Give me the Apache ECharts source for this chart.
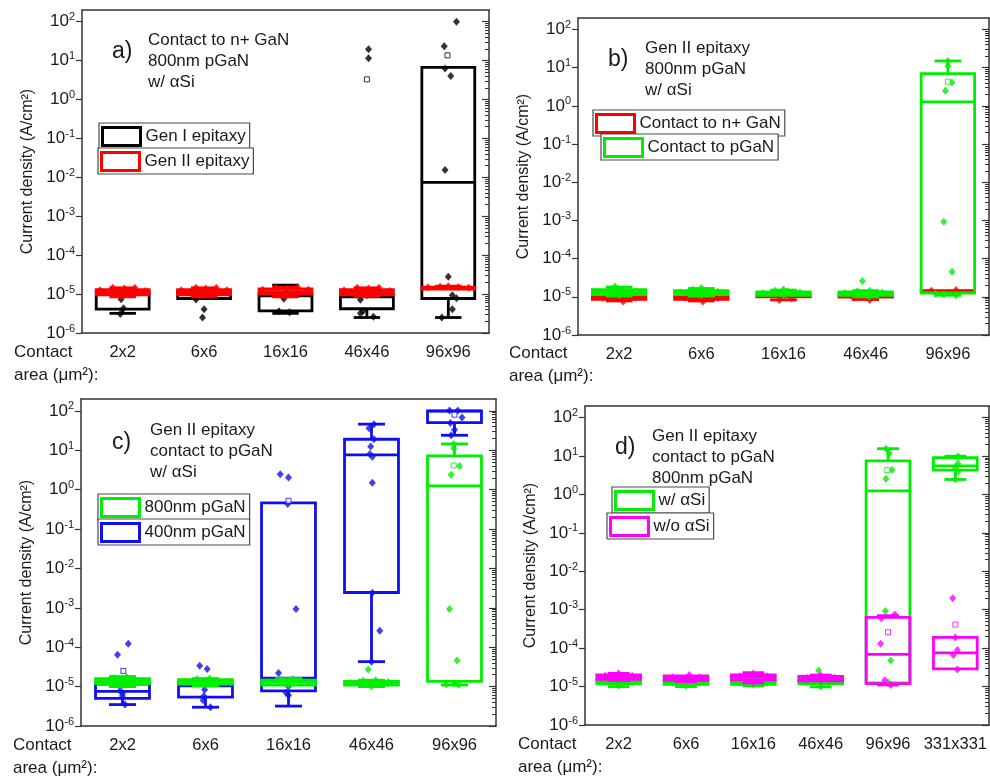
<!DOCTYPE html>
<html>
<head>
<meta charset="utf-8">
<script src="https://cdn.jsdelivr.net/npm/echarts@6.0.0/dist/echarts.min.js"></script>
<style>
  html, body { margin: 0; padding: 0; background: #fff; }
  #chart { width: 990px; height: 779px; }
</style>
</head>
<body>
<div id="chart"></div>
<script>
const FONT = "'Liberation Sans', Arial, Helvetica, sans-serif"
const INK = '#1a1a1a'
const FRAME = '#333333'

// categories and axis ticks
const catsABC = ['2x2', '6x6', '16x16', '46x46', '96x96']
const catsD = ['2x2', '6x6', '16x16', '46x46', '96x96', '331x331']
const decadeTicks = [1e-6, 1e-5, 1e-4, 1e-3, 1e-2, 1e-1, 1, 10, 100]
const yMin = 1e-6
const yMax = 200

// box rows are [min, Q1, median, Q3, max]; points are [x position, value]

// a) Gen I / Gen II, contact to n+ GaN
const boxA1 = [
  [3.2e-6, 4.1e-6, 1.0e-5, 1.15e-5, 1.15e-5],
  [7.7e-6, 7.7e-6, 1.0e-5, 1.2e-5, 1.2e-5],
  [3.2e-6, 3.7e-6, 9e-6, 1.0e-5, 1.7e-5],
  [2.5e-6, 4.2e-6, 8.5e-6, 9e-6, 9e-6],
  [2.5e-6, 7.7e-6, 7.4e-3, 6.7, 6.7]
]
const boxA2 = [
  [8.5e-6, 9.5e-6, 1.1e-5, 1.3e-5, 1.45e-5],
  [8.5e-6, 9.5e-6, 1.1e-5, 1.3e-5, 1.45e-5],
  [8.5e-6, 1.0e-5, 1.15e-5, 1.35e-5, 1.5e-5],
  [8.7e-6, 9.5e-6, 1.1e-5, 1.3e-5, 1.45e-5],
  [1.3e-5, 1.35e-5, 1.42e-5, 1.5e-5, 1.6e-5]
]
const ptsA1 = [
  [-0.02, 7.4e-6], [0.01, 4.3e-6], [-0.03, 3.1e-6],
  [0.9, 7.3e-6], [1.0, 4.1e-6], [0.98, 2.5e-6],
  [1.98, 7.6e-6], [1.92, 3.6e-6], [2.05, 3.4e-6],
  [3.02, 19.5], [3.02, 11.5], [2.92, 7.2e-6], [2.95, 3.6e-6], [2.92, 3.2e-6], [3.08, 2.6e-6],
  [4.1, 100], [3.95, 23.4], [3.96, 6.3], [4.03, 4.0], [3.96, 0.0154], [4.0, 2.8e-5],
  [4.05, 9.3e-6], [4.1, 7.8e-6], [4.05, 4.1e-6], [3.92, 2.5e-6]
]
const meanA1 = [[3.0, 3.3], [3.99, 13.7]]
const ptsA2 = [
  [-0.28, 1.25e-5], [-0.12, 1.45e-5], [0.02, 1.4e-5], [0.15, 1.45e-5], [0.28, 1.2e-5], [-0.02, 9e-6],
  [0.72, 1.25e-5], [0.9, 1.45e-5], [1.02, 1.4e-5], [1.15, 1.45e-5], [1.28, 1.25e-5], [0.98, 9e-6],
  [1.72, 1.3e-5], [1.88, 1.45e-5], [2.02, 1.4e-5], [2.15, 1.5e-5], [2.28, 1.3e-5], [2.0, 9e-6],
  [2.72, 1.25e-5], [2.88, 1.45e-5], [3.02, 1.4e-5], [3.15, 1.45e-5], [3.28, 1.2e-5], [3.0, 9.2e-6],
  [3.75, 1.5e-5], [3.9, 1.55e-5], [4.0, 1.6e-5], [4.12, 1.5e-5], [4.25, 1.45e-5]
]
const meanA2 = []

// b) Gen II, contact to n+ GaN vs contact to pGaN
const boxB1 = [
  [7.8e-6, 8.6e-6, 1.0e-5, 1.05e-5, 1.1e-5],
  [7.8e-6, 8.6e-6, 9.8e-6, 1.05e-5, 1.1e-5],
  [8.3e-6, 1.0e-5, 1.05e-5, 1.1e-5, 1.15e-5],
  [8.5e-6, 9.8e-6, 1.05e-5, 1.1e-5, 1.15e-5],
  [1.3e-5, 1.35e-5, 1.4e-5, 1.45e-5, 1.5e-5]
]
const boxB2 = [
  [1.05e-5, 1.15e-5, 1.35e-5, 1.55e-5, 1.8e-5],
  [1.05e-5, 1.15e-5, 1.3e-5, 1.45e-5, 1.65e-5],
  [1.05e-5, 1.1e-5, 1.25e-5, 1.35e-5, 1.5e-5],
  [1.0e-5, 1.1e-5, 1.2e-5, 1.35e-5, 1.45e-5],
  [1.1e-5, 1.26e-5, 1.27, 7.0, 15]
]
const ptsB1 = [
  [0.05, 7.5e-6], [-0.2, 9.5e-6], [0.2, 9.5e-6],
  [1.02, 7.5e-6], [0.8, 9.5e-6], [1.2, 9.5e-6],
  [1.95, 8.2e-6], [2.1, 9e-6],
  [3.05, 8.3e-6], [2.85, 9.5e-6],
  [3.8, 1.45e-5], [4.1, 1.5e-5]
]
const ptsB2 = [
  [-0.25, 1.3e-5], [-0.1, 1.6e-5], [-0.05, 1.85e-5], [0.05, 1.5e-5], [0.2, 1.4e-5], [0.0, 1.1e-5],
  [0.75, 1.3e-5], [0.9, 1.55e-5], [1.0, 1.7e-5], [1.05, 1.45e-5], [1.2, 1.35e-5], [1.0, 1.1e-5],
  [1.75, 1.25e-5], [1.9, 1.45e-5], [2.0, 1.55e-5], [2.05, 1.4e-5], [2.2, 1.3e-5], [2.0, 1.1e-5],
  [2.96, 2.6e-5], [2.75, 1.25e-5], [2.9, 1.4e-5], [3.05, 1.45e-5], [3.2, 1.3e-5], [3.04, 1.0e-5],
  [4.0, 15], [4.0, 11], [4.05, 4.1], [3.97, 2.5], [3.95, 9.2e-4], [4.05, 4.5e-5],
  [3.95, 1.15e-5], [4.1, 1.1e-5], [3.85, 1.2e-5]
]
const meanB1 = []
const meanB2 = [[4.0, 4.3]]

// c) Gen II contact to pGaN, 800nm vs 400nm pGaN
const boxC1 = [
  [1.0e-5, 1.2e-5, 1.4e-5, 1.6e-5, 1.8e-5],
  [1.05e-5, 1.15e-5, 1.3e-5, 1.5e-5, 1.6e-5],
  [1.05e-5, 1.1e-5, 1.3e-5, 1.45e-5, 1.6e-5],
  [1.0e-5, 1.1e-5, 1.2e-5, 1.35e-5, 1.45e-5],
  [1.1e-5, 1.35e-5, 1.25, 7.2, 14.5]
]
const boxC2 = [
  [3.5e-6, 5e-6, 7.6e-6, 1.15e-5, 1.15e-5],
  [3e-6, 5.4e-6, 1.05e-5, 1.1e-5, 1.1e-5],
  [3.2e-6, 7.8e-6, 1.65e-5, 0.46, 0.46],
  [4.3e-5, 2.45e-3, 7.6, 19, 46],
  [24, 50, 98, 100, 100]
]
const ptsC1 = [
  [-0.25, 1.35e-5], [-0.1, 1.65e-5], [0.05, 1.75e-5], [0.15, 1.5e-5], [0.25, 1.4e-5], [0.0, 1.05e-5],
  [0.75, 1.3e-5], [0.9, 1.55e-5], [1.05, 1.6e-5], [1.15, 1.4e-5], [1.25, 1.3e-5], [1.0, 1.1e-5],
  [1.75, 1.3e-5], [1.9, 1.5e-5], [2.05, 1.55e-5], [2.15, 1.4e-5], [2.25, 1.25e-5], [2.0, 1.1e-5],
  [2.96, 2.7e-5], [2.75, 1.25e-5], [2.9, 1.4e-5], [3.05, 1.45e-5], [3.2, 1.3e-5], [3.0, 1.0e-5],
  [3.99, 14.5], [3.99, 11.3], [4.06, 4.0], [3.96, 2.4], [3.94, 9.3e-4], [4.03, 4.6e-5],
  [4.0, 1.2e-5], [4.05, 1.1e-5], [3.9, 1.15e-5]
]
const meanC1 = [[3.99, 4.1]]
const ptsC2 = [
  [-0.06, 6.4e-5], [0.07, 1.22e-4], [0.0, 6.8e-6], [0.0, 5.8e-6], [0.03, 3.5e-6], [-0.03, 7.8e-6],
  [0.93, 3.4e-5], [1.02, 2.8e-5], [0.99, 8.3e-6], [0.98, 5.8e-6], [0.97, 4.5e-6], [1.06, 3e-6],
  [1.9, 2.45], [2.0, 2.03], [1.99, 0.43], [2.09, 9.3e-4], [1.88, 2.2e-5], [2.0, 1e-5], [1.97, 7e-6], [2.0, 6e-6],
  [3.03, 46], [2.97, 36], [3.03, 19], [2.99, 12.4], [2.98, 8], [3.01, 6.8], [3.01, 1.5],
  [3.01, 2.4e-3], [3.1, 2.6e-4], [3.0, 4.3e-5],
  [3.94, 102], [4.04, 102], [4.09, 68], [3.95, 49], [4.0, 33], [3.96, 24]
]
const meanC2 = [[0.01, 2.5e-5], [2.0, 0.52], [4.0, 80]]

// d) Gen II contact to pGaN, w/ vs w/o aSi
const boxD1 = [
  [1.0e-5, 1.2e-5, 1.35e-5, 1.45e-5, 1.5e-5],
  [1.0e-5, 1.15e-5, 1.3e-5, 1.4e-5, 1.45e-5],
  [1.05e-5, 1.15e-5, 1.3e-5, 1.4e-5, 1.45e-5],
  [9.8e-6, 1.2e-5, 1.3e-5, 1.4e-5, 1.4e-5],
  [1.2e-5, 1.25e-5, 1.24, 7.5, 15.5],
  [2.45, 4.3, 5.5, 9.0, 9.9]
]
const boxD2 = [
  [1.45e-5, 1.55e-5, 1.8e-5, 2.0e-5, 2.2e-5],
  [1.35e-5, 1.45e-5, 1.65e-5, 1.9e-5, 2.0e-5],
  [1.25e-5, 1.5e-5, 1.75e-5, 2.0e-5, 2.3e-5],
  [1.35e-5, 1.4e-5, 1.6e-5, 1.85e-5, 2.0e-5],
  [1.1e-5, 1.2e-5, 6.9e-5, 6.3e-4, 7e-4],
  [2.8e-5, 2.9e-5, 7.5e-5, 1.9e-4, 1.9e-4]
]
const ptsD1 = [
  [-0.2, 1.3e-5], [0.0, 1.45e-5], [0.2, 1.3e-5], [0.0, 1.05e-5],
  [0.8, 1.25e-5], [1.0, 1.4e-5], [1.2, 1.25e-5], [1.0, 1.05e-5],
  [1.8, 1.25e-5], [2.0, 1.4e-5], [2.2, 1.25e-5], [2.0, 1.1e-5],
  [2.97, 2.6e-5], [2.8, 1.3e-5], [3.2, 1.3e-5], [3.0, 1.0e-5],
  [3.97, 15.5], [4.02, 11.7], [4.06, 4.3], [3.97, 2.55], [3.96, 9.3e-4], [4.04, 4.8e-5], [4.0, 1.3e-5],
  [5.04, 9.9], [5.04, 6.4], [5.0, 5.0], [5.04, 3.9], [5.0, 2.45]
]
const meanD1 = [[3.99, 4.3]]
const ptsD2 = [
  [-0.2, 1.9e-5], [0.0, 2.2e-5], [0.2, 1.9e-5], [0.0, 1.6e-5],
  [0.8, 1.75e-5], [1.05, 2.0e-5], [1.2, 1.75e-5], [1.0, 1.5e-5],
  [1.8, 1.85e-5], [2.0, 2.2e-5], [2.2, 1.85e-5], [2.0, 1.3e-5],
  [2.8, 1.7e-5], [3.0, 1.95e-5], [3.2, 1.7e-5], [3.0, 1.45e-5],
  [3.9, 6e-4], [4.1, 7.5e-4], [3.89, 1.3e-4], [3.95, 1.45e-5], [4.04, 1.1e-5],
  [4.96, 2e-3], [5.0, 1.9e-4], [5.03, 8.9e-5], [4.97, 6.6e-5], [5.03, 2.8e-5]
]
const meanD2 = [[4.0, 2.6e-4], [5.0, 4.1e-4]]

// minor ticks of the right-hand mirror axis (2..9 inside every decade)
const minorTicks = []
decadeTicks.forEach(d => {
  for (let k = 2; k <= 9; k++) {
    if (k * d < yMax) minorTicks.push(k * d)
  }
})

const panels = [
  {
    rect: { left: 82, top: 10, width: 407, height: 323 },
    cats: catsABC,
    series: [
      { name: 'Gen I epitaxy', color: '#000000', box: boxA1, pts: ptsA1, mean: meanA1 },
      { name: 'Gen II epitaxy', color: '#ff0000', box: boxA2, pts: ptsA2, mean: meanA2 }
    ],
    legends: [{ left: 99, top: 123 }, { left: 98, top: 148 }],
    tag: { text: 'a)', left: 112, top: 40 },
    note: { text: 'Contact to n+ GaN\n800nm pGaN\nw/ \u03b1Si', left: 148, top: 30 },
    foot: { left: 14, top: 340.5 }
  },
  {
    rect: { left: 578, top: 18, width: 411, height: 317 },
    cats: catsABC,
    series: [
      { name: 'Contact to n+ GaN', color: '#ff0000', box: boxB1, pts: ptsB1, mean: meanB1 },
      { name: 'Contact to pGaN', color: '#00ee00', box: boxB2, pts: ptsB2, mean: meanB2 }
    ],
    legends: [{ left: 593, top: 110 }, { left: 601, top: 134 }],
    tag: { text: 'b)', left: 608, top: 48 },
    note: { text: 'Gen II epitaxy\n800nm pGaN\nw/ \u03b1Si', left: 645, top: 38 },
    foot: { left: 509, top: 341.5 }
  },
  {
    rect: { left: 81, top: 399, width: 415, height: 327 },
    cats: catsABC,
    series: [
      { name: '400nm pGaN', color: '#1010ee', box: boxC2, pts: ptsC2, mean: meanC2 },
      { name: '800nm pGaN', color: '#00ee00', box: boxC1, pts: ptsC1, mean: meanC1 }
    ],
    legendOrder: ['800nm pGaN', '400nm pGaN'],
    legends: [{ left: 98, top: 494 }, { left: 98, top: 519 }],
    tag: { text: 'c)', left: 112, top: 431 },
    note: { text: 'Gen II epitaxy\ncontact to pGaN\nw/ \u03b1Si', left: 150, top: 420 },
    foot: { left: 13, top: 733.5 }
  },
  {
    rect: { left: 585, top: 406, width: 404, height: 319 },
    cats: catsD,
    series: [
      { name: 'w/ \u03b1Si', color: '#00ee00', box: boxD1, pts: ptsD1, mean: meanD1 },
      { name: 'w/o \u03b1Si', color: '#ff00ff', box: boxD2, pts: ptsD2, mean: meanD2 }
    ],
    legends: [{ left: 612, top: 487 }, { left: 607, top: 513 }],
    tag: { text: 'd)', left: 615, top: 436 },
    note: { text: 'Gen II epitaxy\ncontact to pGaN\n800nm pGaN', left: 652, top: 425.5 },
    foot: { left: 518, top: 732.5 }
  }
]

function makeBox(color) {
  return function(params, api) {
    const i = api.value(0)
    const bw = api.size([1, 1], [i, 1])[0] * 0.65
    const cw = bw * 0.5
    const pt = d => api.coord([i, api.value(d)])
    const lo = pt(1)[1]
    const q1 = pt(2)[1]
    const md = pt(3)[1]
    const q3 = pt(4)[1]
    const hi = pt(5)[1]
    const cx = pt(1)[0]
    const st = { stroke: color, lineWidth: 2.8 }
    const line = (x1, y1, x2, y2) => ({ type: 'line', shape: { x1, y1, x2, y2 }, style: st })
    const kids = [
      { type: 'rect', shape: { x: cx - bw / 2, y: q3, width: bw, height: q1 - q3 },
        style: { stroke: color, lineWidth: 2.8, fill: 'none' } },
      line(cx - bw / 2, md, cx + bw / 2, md)
    ]
    if (hi < q3 - 1) {
      kids.push(line(cx, q3, cx, hi), line(cx - cw / 2, hi, cx + cw / 2, hi))
    }
    if (lo > q1 + 1) {
      kids.push(line(cx, q1, cx, lo), line(cx - cw / 2, lo, cx + cw / 2, lo))
    }
    return { type: 'group', children: kids }
  }
}

function tickLabel(v) {
  const e = Math.round(Math.log10(v))
  if (Math.abs(Math.log10(v) - e) > 1e-6) return ''
  return '{b|10}{s|' + e + '}'
}

const frameLine = { show: true, onZero: false, lineStyle: { color: FRAME, width: 1.5 } }
const tickStyle = { color: FRAME, width: 1.2 }

const grid = []
const xAxis = []
const yAxis = []
const series = []
const legend = []
const graphic = []

panels.forEach((p, g) => {
  grid.push(Object.assign({ containLabel: false }, p.rect))
  xAxis.push(
    {
      gridIndex: g, type: 'category', data: p.cats, position: 'bottom',
      axisLine: frameLine,
      axisTick: { alignWithLabel: true, interval: 0, length: 6, lineStyle: tickStyle },
      axisLabel: { interval: 0, margin: 11, fontSize: 16.5, color: INK, fontFamily: FONT },
      splitLine: { show: false }
    },
    {
      gridIndex: g, type: 'category', data: p.cats, position: 'top',
      axisLine: frameLine,
      axisTick: { alignWithLabel: true, interval: 0, inside: true, length: 5, lineStyle: tickStyle },
      axisLabel: { show: false },
      splitLine: { show: false }
    },
    { gridIndex: g, type: 'value', min: -0.5, max: p.cats.length - 0.5, show: false,
      axisLine: { onZero: false }, splitLine: { show: false } }
  )
  yAxis.push(
    {
      gridIndex: g, type: 'log', min: yMin, max: yMax, position: 'left',
      name: 'Current density (A/cm\u00b2)', nameLocation: 'middle', nameGap: 46,
      nameTextStyle: { fontSize: 16, color: INK, fontFamily: FONT },
      axisLine: frameLine,
      axisTick: { customValues: decadeTicks, length: 6, lineStyle: tickStyle },
      axisLabel: {
        customValues: decadeTicks, margin: 7, formatter: tickLabel,
        rich: {
          b: { fontSize: 17, color: INK, fontFamily: FONT, lineHeight: 20 },
          s: { fontSize: 11, color: INK, fontFamily: FONT, lineHeight: 11, verticalAlign: 'top' }
        }
      },
      splitLine: { show: false }
    },
    {
      gridIndex: g, type: 'log', min: yMin, max: yMax, position: 'right',
      axisLine: frameLine,
      axisTick: { customValues: decadeTicks, inside: true, length: 7, lineStyle: tickStyle },
      axisLabel: { show: false },
      splitLine: { show: false }
    },
    {
      gridIndex: g, type: 'log', min: yMin, max: yMax, position: 'right',
      axisLine: { show: false, onZero: false },
      axisTick: { customValues: minorTicks, inside: true, length: 4, lineStyle: { color: FRAME, width: 1 } },
      axisLabel: { show: false },
      splitLine: { show: false }
    }
  )

  p.series.forEach((s, k) => {
    const z = 2 + k * 3
    series.push(
      {
        type: 'custom', name: s.name, xAxisIndex: 3 * g, yAxisIndex: 3 * g,
        renderItem: makeBox(s.color),
        data: s.box.map((b, i) => [i].concat(b)),
        encode: { x: 0, y: [1, 2, 3, 4, 5] },
        itemStyle: { color: s.color }, z, silent: true
      },
      {
        type: 'scatter', name: s.name, xAxisIndex: 3 * g + 2, yAxisIndex: 3 * g,
        data: s.pts, symbol: 'diamond', symbolSize: [7, 8],
        itemStyle: { color: s.color }, z: z + 1, silent: true
      },
      {
        type: 'scatter', name: s.name, xAxisIndex: 3 * g + 2, yAxisIndex: 3 * g,
        data: s.mean, symbol: 'rect', symbolSize: 5,
        itemStyle: { color: '#fff', borderColor: s.color, borderWidth: 1 }, z: z + 2, silent: true
      }
    )
  })

  const order = p.legendOrder || p.series.map(s => s.name)
  order.forEach((name, k) => {
    const s = p.series.find(q => q.name === name)
    legend.push({
      data: [{ name, icon: 'rect', itemStyle: { color: '#fff', borderColor: s.color, borderWidth: 3 } }],
      left: p.legends[k].left, top: p.legends[k].top,
      itemWidth: 38, itemHeight: 18, padding: [3, 4, 2, 2],
      borderColor: '#4a4a4a', borderWidth: 1.2, backgroundColor: '#fff',
      selectedMode: false,
      textStyle: { fontSize: 17, color: INK, fontFamily: FONT }
    })
  })

  graphic.push(
    { type: 'text', left: p.tag.left, top: p.tag.top,
      style: { text: p.tag.text, fontSize: 23, fontFamily: FONT, fill: INK } },
    { type: 'text', left: p.note.left, top: p.note.top,
      style: { text: p.note.text, fontSize: 17, lineHeight: 21, fontFamily: FONT, fill: INK } },
    { type: 'text', left: p.foot.left, top: p.foot.top,
      style: { text: 'Contact\narea (\u03bcm\u00b2):', fontSize: 17, lineHeight: 23, fontFamily: FONT, fill: INK } }
  )
})

const chart = echarts.init(document.getElementById('chart'), null, { renderer: 'canvas' })
chart.setOption({
  backgroundColor: '#fff',
  animation: false,
  grid, xAxis, yAxis, series, legend, graphic
})
</script>
</body>
</html>
